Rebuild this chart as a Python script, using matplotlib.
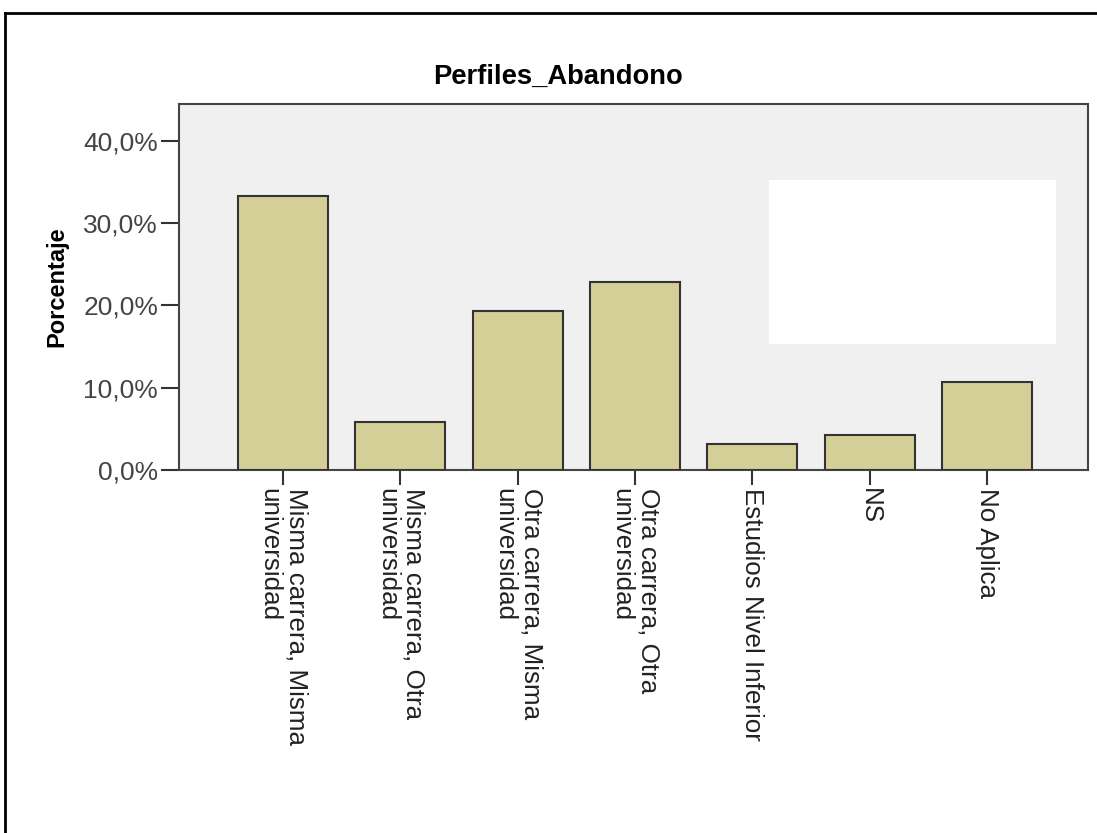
import matplotlib
matplotlib.use("Agg")
import matplotlib.pyplot as plt
from matplotlib.patches import Rectangle
from matplotlib.lines import Line2D

# Datos
categorias = [
    "Misma carrera, Misma\nuniversidad",
    "Misma carrera, Otra\nuniversidad",
    "Otra carrera, Misma\nuniversidad",
    "Otra carrera, Otra\nuniversidad",
    "Estudios Nivel Inferior",
    "NS",
    "No Aplica",
]
porcentajes = [33.3, 5.8, 19.3, 22.8, 3.2, 4.3, 10.7]
yticks = [0, 10, 20, 30, 40]
ytick_labels = ["0,0%", "10,0%", "20,0%", "30,0%", "40,0%"]

plt.rcParams["font.family"] = ["Liberation Sans", "DejaVu Sans"]

fig = plt.figure(figsize=(10.97, 8.33), dpi=100)
ax = fig.add_axes([0.1632, 0.4358, 0.8286, 0.4394])
ax.set_facecolor("#F0F0F0")

x = range(len(categorias))
ax.bar(x, porcentajes, width=0.767, color="#D3CF97", edgecolor="#333333",
       linewidth=1.5, zorder=3)

ax.set_xlim(-0.887, 6.861)
ax.set_ylim(0, 44.5)

ax.set_yticks(yticks)
ax.set_yticklabels(ytick_labels, fontsize=19, color="#444444")
ax.set_xticks(list(x))
ax.set_xticklabels(categorias, rotation=-90, ha="center", va="top",
                   multialignment="left", fontsize=18.7, color="#222222",
                   linespacing=1.15)
ax.tick_params(axis="y", length=13, width=1.5, color="#333333", pad=2)
ax.tick_params(axis="x", length=11, width=1.5, color="#333333", pad=2)

for s in ax.spines.values():
    s.set_color("#444444")
    s.set_linewidth(1.5)

ax.set_ylabel("Porcentaje", fontsize=17, fontweight="bold", labelpad=11)

# recuadro blanco (leyenda tapada)
ax.add_patch(Rectangle((0.649, 0.344), 0.316, 0.448, transform=ax.transAxes,
                       facecolor="white", edgecolor="none", zorder=2))

fig.text(558 / 1097, 1 - 77 / 833, "Perfiles_Abandono", ha="center",
         va="center", fontsize=19.7, fontweight="bold")

# marco exterior
fig.add_artist(Line2D([5 / 1097, 1], [1 - 13 / 833] * 2, color="black",
                      linewidth=2, transform=fig.transFigure))
fig.add_artist(Line2D([5 / 1097] * 2, [0, 1 - 13 / 833], color="black",
                      linewidth=2, transform=fig.transFigure))

fig.savefig("out.png", dpi=100)
